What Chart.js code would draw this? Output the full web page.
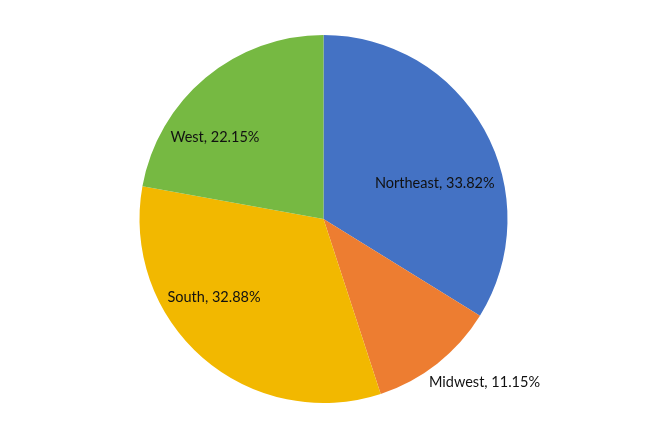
<!DOCTYPE html>
<html>
<head>
<meta charset="utf-8">
<script src="https://cdn.jsdelivr.net/npm/chart.js@4"></script>
<style>
  html, body { margin: 0; padding: 0; background: #fff; }
  #wrap { width: 653px; height: 444px; }
</style>
</head>
<body>
<div id="wrap"><canvas id="myChart" width="653" height="444"></canvas></div>
<script>
// Regional shares
const regions = ["Northeast", "Midwest", "South", "West"];
const shares = [33.82, 11.15, 32.88, 22.15];
const sliceColors = ["#4472C4", "#ED7D31", "#F2B800", "#76B942"];

// where each label sits, relative to the pie centre, in units of radius
const labelSpots = [[0.605, -0.195], [0.875, 0.885], [-0.595, 0.425], [-0.59, -0.445]];

const labelPlugin = {
    id: "sliceLabels",
    afterDatasetsDraw(chart) {
        const ctx = chart.ctx;
        const meta = chart.getDatasetMeta(0);
        ctx.save();
        ctx.font = "14.5px Lato";
        ctx.fillStyle = "#111";
        ctx.textAlign = "center";
        ctx.textBaseline = "middle";
        meta.data.forEach((arc, i) => {
            const r = arc.outerRadius;
            const x = arc.x + labelSpots[i][0] * r;
            const y = arc.y + labelSpots[i][1] * r;
            ctx.fillText(regions[i] + ", " + shares[i].toFixed(2) + "%", x, y);
        });
        ctx.restore();
    }
};

new Chart(document.getElementById("myChart"), {
    type: "pie",
    data: {
        labels: regions,
        datasets: [{
            data: shares,
            backgroundColor: sliceColors,
            borderWidth: 0,
        }],
    },
    options: {
        responsive: false,
        animation: false,
        layout: { padding: { top: 35, bottom: 41, left: 0, right: 6 } },
        plugins: {
            legend: { display: false },
            tooltip: { enabled: false },
        },
    },
    plugins: [labelPlugin],
});
</script>
</body>
</html>
